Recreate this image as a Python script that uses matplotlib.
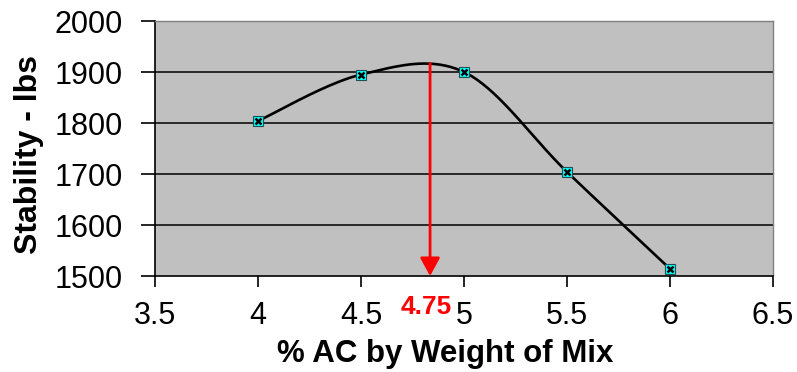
import matplotlib.pyplot as plt
from matplotlib.ticker import MultipleLocator
import numpy as np

# Dados
teor_ac = [4.0, 4.5, 5.0, 5.5, 6.0]
estabilidade = [1804, 1895, 1900, 1704, 1514]
teor_otimo_x = 4.835         # posição da seta no desenho
teor_otimo_label = "4.75"
topo_seta = 1917


def curva_suave(xs, ys, x0, x1, y0, y1, w, h, n=40):
    """ Suavização tipo Excel (Catmull-Rom em coordenadas de tela). """
    px = [(x - x0) / (x1 - x0) * w for x in xs]
    py = [(y - y0) / (y1 - y0) * h for y in ys]
    pts = np.array(list(zip(px, py)))
    pts = np.vstack([pts[0], pts, pts[-1]])
    out = []
    t = np.linspace(0, 1, n)[:, None]
    for i in range(1, len(pts) - 2):
        p0, p1, p2, p3 = pts[i - 1], pts[i], pts[i + 1], pts[i + 2]
        c1 = p1 + (p2 - p0) / 6
        c2 = p2 - (p3 - p1) / 6
        seg = ((1 - t) ** 3) * p1 + 3 * ((1 - t) ** 2) * t * c1 + 3 * (1 - t) * t ** 2 * c2 + t ** 3 * p2
        out.append(seg)
    out = np.vstack(out)
    xs_s = out[:, 0] / w * (x1 - x0) + x0
    ys_s = out[:, 1] / h * (y1 - y0) + y0
    return xs_s, ys_s


plt.rcParams['font.family'] = ['Liberation Sans', 'DejaVu Sans']

fig = plt.figure(figsize=(7.97, 3.72), dpi=100)
ax = fig.add_axes([0.1945, 0.258, 0.7755, 0.6855])
ax.set_facecolor("#c0c0c0")

# Linhas de grade
for y in [1600, 1700, 1800, 1900]:
    ax.axhline(y, color="black", linewidth=1.1, zorder=1)

# Curva suavizada
xs_s, ys_s = curva_suave(teor_ac, estabilidade, 3.5, 6.5, 1500, 2000, 616, 255)
ax.plot(xs_s, ys_s, color="black", linewidth=1.9, zorder=3)

# Marcadores
ax.plot(teor_ac, estabilidade, "s", mfc="#00ffff", mec="#205050", markersize=7.5, mew=0.8, zorder=4)
ax.plot(teor_ac, estabilidade, "x", color="black", markersize=4.5, mew=1.8, zorder=5)

# Seta vermelha
ax.annotate("", xy=(teor_otimo_x, 1500), xytext=(teor_otimo_x, topo_seta),
            arrowprops=dict(arrowstyle="-|>,head_length=1.1,head_width=0.6", color="red", lw=2,
                            shrinkA=0, shrinkB=0), zorder=6)
ax.text(4.817, 1463, teor_otimo_label, color="red",
        fontsize=19, fontweight="bold", ha="center", va="top", clip_on=False)

# Eixos
ax.set_xlim(3.5, 6.5)
ax.set_ylim(1500, 2000)
ax.yaxis.set_major_locator(MultipleLocator(100))
ax.set_xticks([3.5, 4, 4.5, 5, 5.5, 6, 6.5])
ax.set_xticklabels(["3.5", "4", "4.5", "5", "5.5", "6", "6.5"])
ax.tick_params(axis="both", labelsize=22, direction="out", color="black", width=1.2)
ax.tick_params(axis="y", length=10, pad=13)
ax.tick_params(axis="x", length=8, pad=10)

for lado in ["left", "bottom"]:
    ax.spines[lado].set_color("black")
    ax.spines[lado].set_linewidth(1.2)
for lado in ["top", "right"]:
    ax.spines[lado].set_color("#808080")
    ax.spines[lado].set_linewidth(1.0)

ax.set_xlabel("% AC by Weight of Mix", fontsize=22.5, fontweight="bold")
ax.xaxis.set_label_coords(0.469, -0.245)
ax.set_ylabel("Stability - lbs", fontsize=23, fontweight="bold")
ax.yaxis.set_label_coords(-0.179, 0.475)

plt.savefig("out.png", dpi=100)
plt.close()
